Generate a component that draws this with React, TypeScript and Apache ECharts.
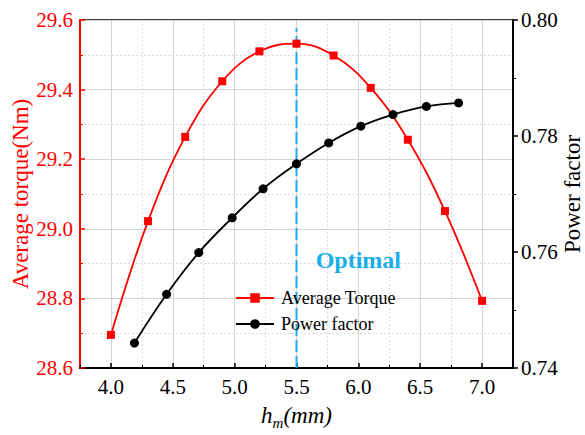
import React, { useEffect, useRef } from "react";
import * as echarts from "echarts";

const torqueX = [4.0, 4.3, 4.6, 4.9, 5.2, 5.5, 5.8, 6.1, 6.4, 6.7, 7.0];
const torqueY = [28.695, 29.022, 29.264, 29.424, 29.51, 29.532, 29.498, 29.405, 29.256, 29.051, 28.793];
const pfX = [4.19, 4.45, 4.71, 4.98, 5.23, 5.5, 5.76, 6.02, 6.28, 6.55, 6.81];
const pfY = [0.7443, 0.7527, 0.7599, 0.7659, 0.7709, 0.7752, 0.7788, 0.7817, 0.7837, 0.7851, 0.7857];
const optimalX = [5.5, 5.5];
const optimalY = [28.6, 29.576];
const optimalLabelPos = [6.0, 28.91];
const seriesNames = ["Average Torque", "Power factor"];

const FONT = "Liberation Serif";
const RED = "#ff0000";
const CYAN = "#1aaee8";

const tickLabel = (color: string, digits: number, extra: any = {}) => ({
  fontFamily: FONT,
  fontSize: 21,
  color,
  ...extra,
  formatter: (v: number) => v.toFixed(digits),
});

export default function App() {
  const ref = useRef<HTMLDivElement>(null);
  useEffect(() => {
    if (!ref.current) return;
    const chart = echarts.init(ref.current, null, { renderer: "svg" });
    const option: any = {
      animation: false,
      backgroundColor: "#fff",
      textStyle: { fontFamily: FONT },
      grid: {
        left: 80,
        right: 72,
        top: 20,
        bottom: 67,
        show: true,
        borderColor: "#000",
        borderWidth: 1.5,
        backgroundColor: "transparent",
        containLabel: false,
        outerBoundsMode: "none",
      },
      legend: {
        data: seriesNames,
        orient: "vertical",
        left: 230,
        top: 284,
        itemWidth: 38,
        itemHeight: 12,
        itemGap: 8,
        textStyle: { fontFamily: FONT, fontSize: 18, color: "#000", padding: [0, 0, 0, 2] },
      },
      xAxis: [
        {
          type: "value",
          min: 3.75,
          max: 7.25,
          splitNumber: 7,
          position: "bottom",
          name: "{i|h}{s|m}{i|(mm)}",
          nameLocation: "middle",
          nameGap: 33,
          nameMoveOverlap: false,
          nameTextStyle: {
            rich: {
              i: { fontFamily: FONT, fontSize: 23, fontStyle: "italic", color: "#000", lineHeight: 26, verticalAlign: "bottom" },
              s: { fontFamily: FONT, fontSize: 15, fontStyle: "italic", color: "#000", lineHeight: 20, verticalAlign: "bottom", padding: [0, 0, -3, 0] },
            },
          },
          axisLine: { lineStyle: { color: "#000", width: 2 } },
          axisTick: { inside: true, length: 5, lineStyle: { color: "#000", width: 1.5 } },
          axisLabel: tickLabel("#000", 1, { margin: 8, showMinLabel: false, showMaxLabel: false }),
          splitLine: { show: true, lineStyle: { color: "#d4d4d4", width: 1 } },
        },
        {
          type: "value",
          min: 3.75,
          max: 7.25,
          interval: 0.5,
          position: "bottom",
          axisLine: { show: false },
          axisTick: { show: true, inside: true, length: 3, lineStyle: { color: "#000", width: 1 } },
          axisLabel: { show: false },
          splitLine: { show: true, lineStyle: { color: "#dcdcdc", width: 1, type: [2, 2] } },
        },
      ],
      yAxis: [
        {
          type: "value",
          min: 28.6,
          max: 29.6,
          interval: 0.2,
          position: "left",
          name: "Average torque(Nm)",
          nameLocation: "middle",
          nameRotate: 90,
          nameGap: 48,
          nameMoveOverlap: false,
          nameTextStyle: { fontFamily: FONT, fontSize: 23, color: RED },
          axisLine: { lineStyle: { color: RED, width: 2 } },
          axisTick: { inside: true, length: 5, lineStyle: { color: RED, width: 1.5 } },
          minorTick: { show: true, splitNumber: 2, length: 3, lineStyle: { color: RED, width: 1 } },
          axisLabel: tickLabel(RED, 1, { margin: 7 }),
          splitLine: { show: true, lineStyle: { color: "#d4d4d4", width: 1 } },
          minorSplitLine: { show: true, lineStyle: { color: "#dcdcdc", width: 1, type: [2, 2] } },
        },
        {
          type: "value",
          min: 0.74,
          max: 0.8,
          interval: 0.02,
          position: "right",
          name: "Power factor",
          nameLocation: "middle",
          nameRotate: 90,
          nameGap: 48,
          nameMoveOverlap: false,
          nameTextStyle: { fontFamily: FONT, fontSize: 23, color: "#000" },
          axisLine: { lineStyle: { color: "#000", width: 2 } },
          axisTick: { inside: false, length: 5, lineStyle: { color: "#000", width: 1.5 } },
          minorTick: { show: true, splitNumber: 2, length: 3, lineStyle: { color: "#000", width: 1 } },
          axisLabel: tickLabel("#000", 2, { margin: 8 }),
          splitLine: { show: false },
        },
      ],
      series: [
        {
          name: "optimal",
          type: "line",
          xAxisIndex: 0,
          yAxisIndex: 0,
          data: optimalX.map((x, i) => [x, optimalY[i]]),
          symbol: "none",
          lineStyle: { color: CYAN, width: 2, type: [12, 4] },
          silent: true,
          z: 1,
          markPoint: {
            symbol: "circle",
            symbolSize: 1,
            itemStyle: { color: "transparent" },
            label: {
              show: true,
              position: "inside",
              formatter: "Optimal",
              fontFamily: FONT,
              fontSize: 24,
              fontWeight: "bold",
              color: CYAN,
            },
            data: [{ coord: optimalLabelPos }],
          },
        },
        {
          name: seriesNames[0],
          type: "line",
          xAxisIndex: 0,
          yAxisIndex: 0,
          data: torqueX.map((x, i) => [x, torqueY[i]]),
          smooth: 0.4,
          symbol: "rect",
          symbolSize: 8,
          itemStyle: { color: RED },
          lineStyle: { color: RED, width: 1.8 },
          z: 3,
        },
        {
          name: seriesNames[1],
          type: "line",
          xAxisIndex: 0,
          yAxisIndex: 1,
          data: pfX.map((x, i) => [x, pfY[i]]),
          smooth: 0.4,
          symbol: "circle",
          symbolSize: 9,
          itemStyle: { color: "#000" },
          lineStyle: { color: "#000", width: 1.8 },
          z: 3,
        },
      ],
    };
    chart.setOption(option);
    return () => chart.dispose();
  }, []);
  return (
    <div
      ref={ref}
      style={{ position: "fixed", left: 0, top: 0, width: 585, height: 435 }}
    />
  );
}
